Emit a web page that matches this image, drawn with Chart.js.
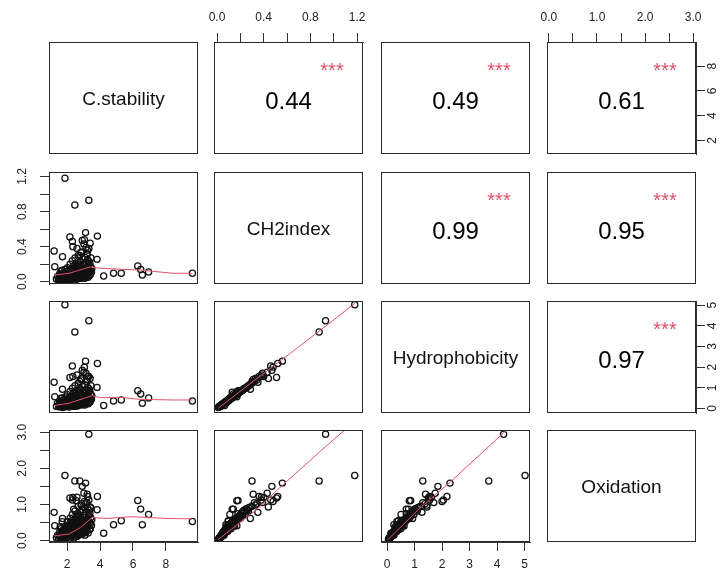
<!DOCTYPE html>
<html><head><meta charset="utf-8">
<script src="https://cdn.jsdelivr.net/npm/chart.js@4/dist/chart.umd.min.js"></script>
<style>
html,body{margin:0;padding:0;background:#fff;}
body{width:725px;height:578px;overflow:hidden;position:relative;}
.pw{position:absolute;}
.pw canvas{display:block;}
</style></head>
<body>
<script>
const varNames = ['C.stability', 'CH2index', 'Hydrophobicity', 'Oxidation'];

const cStability = [1.87,3.32,2.47,3.12,3.84,2.17,2.92,2.77,3.02,3.25,2.55,3.05,2.32,2.60,2.35,3.40,1.21,1.25,1.72,3.82,4.22,4.82,5.29,6.29,6.47,6.57,6.95,9.61,2.40,3.15,2.85,3.22,
1.35,1.42,1.48,1.55,1.60,1.63,1.68,1.72,1.75,1.78,1.82,1.85,1.88,1.90,1.93,1.96,2.00,2.02,2.05,2.08,2.10,2.12,2.15,2.18,2.20,2.22,2.25,2.27,2.30,2.32,2.35,2.37,2.40,2.42,2.45,2.48,2.50,2.52,2.55,2.57,2.60,2.62,2.65,2.67,2.70,2.72,2.75,2.78,2.80,2.82,2.85,2.87,2.90,2.92,2.95,2.97,3.00,3.02,3.05,3.07,3.10,3.12,3.15,3.17,3.20,3.22,3.25,3.27,3.30,3.32,3.35,3.38,3.40,3.43,3.45,3.48,3.50,
1.95,2.05,2.13,2.23,2.28,2.38,2.43,2.53,2.58,2.63,2.68,2.73,2.83,2.88,2.93,2.98,3.03,3.08,3.13,3.18,3.23,3.28,2.02,2.33,2.48,2.62,2.77,3.33,1.58,1.70,
1.52,1.57,1.65,1.70,1.77,1.80,1.84,1.87,1.91,1.98,2.03,2.07,2.11,2.16,2.19,2.24,2.29,2.34,2.39,2.44,2.47,2.51,2.56,2.59,2.64,2.69,2.74,2.79,2.84,2.89,2.94,2.99,3.04,3.09,3.14,3.19,3.24,3.29,3.36,3.42];

const ch2Index = [1.18,0.93,0.875,0.56,0.52,0.51,0.47,0.30,0.43,0.36,0.17,0.48,0.46,0.38,0.40,0.44,0.35,0.17,0.285,0.255,0.065,0.096,0.096,0.18,0.14,0.076,0.11,0.096,0.13,0.39,0.33,0.31,
0.03,0.06,0.02,0.09,0.04,0.12,0.07,0.01,0.05,0.10,0.03,0.08,0.14,0.05,0.02,0.11,0.06,0.16,0.04,0.09,0.13,0.02,0.07,0.20,0.05,0.11,0.03,0.15,0.08,0.24,0.06,0.12,0.18,0.04,0.10,0.27,0.07,0.14,0.21,0.09,0.05,0.16,0.12,0.30,0.08,0.19,0.13,0.06,0.23,0.10,0.17,0.34,0.07,0.15,0.26,0.11,0.20,0.09,0.14,0.28,0.18,0.06,0.22,0.12,0.32,0.16,0.25,0.10,0.19,0.38,0.13,0.21,0.08,0.17,0.27,0.11,0.15,
0.03,0.07,0.04,0.08,0.05,0.09,0.02,0.06,0.11,0.03,0.09,0.04,0.07,0.12,0.05,0.08,0.13,0.04,0.10,0.07,0.14,0.05,0.10,0.14,0.15,0.18,0.22,0.23,0.08,0.13,
0.04,0.02,0.06,0.03,0.08,0.05,0.02,0.06,0.09,0.04,0.07,0.03,0.10,0.05,0.08,0.06,0.11,0.04,0.07,0.12,0.05,0.09,0.03,0.08,0.06,0.10,0.13,0.05,0.09,0.04,0.11,0.07,0.05,0.12,0.09,0.06,0.10,0.14,0.07,0.12];

const hydrophobicity = [5.02,4.24,3.70,2.29,2.18,1.50,1.85,1.30,1.75,1.55,0.81,2.00,2.05,1.62,1.55,1.45,1.27,0.57,0.93,1.02,0.14,0.36,0.41,0.86,0.70,0.25,0.51,0.36,0.78,1.70,1.45,1.40,
0.10,0.25,0.08,0.35,0.15,0.50,0.27,0.05,0.20,0.42,0.12,0.30,0.55,0.19,0.09,0.45,0.24,0.66,0.14,0.38,0.52,0.07,0.28,0.82,0.20,0.44,0.13,0.60,0.33,0.98,0.25,0.50,0.74,0.16,0.41,1.10,0.29,0.57,0.86,0.37,0.21,0.65,0.49,1.22,0.32,0.78,0.53,0.26,0.94,0.40,0.70,1.38,0.28,0.62,1.05,0.45,0.82,0.36,0.58,1.15,0.74,0.25,0.90,0.48,1.30,0.66,1.02,0.41,0.78,1.55,0.53,0.86,0.33,0.70,1.10,0.45,0.62,
0.11,0.31,0.17,0.30,0.22,0.40,0.10,0.27,0.47,0.12,0.36,0.18,0.31,0.52,0.22,0.35,0.55,0.17,0.43,0.30,0.60,0.23,0.40,0.57,0.62,0.70,0.88,0.96,0.30,0.50,
0.16,0.09,0.24,0.12,0.34,0.20,0.08,0.25,0.37,0.17,0.29,0.12,0.42,0.21,0.33,0.24,0.46,0.16,0.30,0.50,0.21,0.37,0.13,0.33,0.25,0.41,0.54,0.20,0.38,0.17,0.45,0.29,0.21,0.50,0.37,0.25,0.42,0.58,0.29,0.49];

const oxidation = [1.80,2.94,1.65,1.59,1.22,1.18,1.50,1.65,1.31,1.22,1.10,1.08,1.12,1.20,1.19,0.93,0.78,0.41,0.61,0.85,0.20,0.44,0.55,1.11,0.87,0.44,0.72,0.53,0.87,1.05,0.98,1.28,
0.08,0.15,0.05,0.25,0.12,0.33,0.22,0.03,0.16,0.30,0.09,0.26,0.40,0.14,0.07,0.35,0.20,0.52,0.11,0.31,0.44,0.06,0.24,0.62,0.17,0.38,0.10,0.55,0.28,0.72,0.21,0.46,0.58,0.14,0.36,0.82,0.27,0.50,0.68,0.33,0.19,0.60,0.42,0.95,0.30,0.66,0.48,0.23,0.78,0.39,0.62,1.02,0.26,0.57,0.85,0.43,0.70,0.34,0.53,0.92,0.64,0.22,0.80,0.45,1.05,0.60,0.88,0.38,0.69,1.12,0.50,0.76,0.31,0.63,0.90,0.42,0.58,
0.10,0.27,0.15,0.32,0.19,0.34,0.08,0.25,0.45,0.12,0.37,0.16,0.28,0.47,0.20,0.33,0.51,0.15,0.40,0.29,0.56,0.21,0.41,0.51,0.40,0.74,0.70,0.84,0.38,0.52,
0.13,0.07,0.21,0.10,0.28,0.18,0.06,0.22,0.33,0.15,0.27,0.11,0.38,0.20,0.30,0.24,0.41,0.16,0.29,0.46,0.21,0.35,0.12,0.32,0.25,0.39,0.50,0.21,0.37,0.17,0.44,0.30,0.22,0.48,0.37,0.26,0.41,0.55,0.31,0.47];

// correlation text in the upper panels: (row,col) pairs 01,02,03,12,13,23
const corrText  = {'01':'0.44','02':'0.49','03':'0.61','12':'0.99','13':'0.95','23':'0.97'};
const corrStars = {'01':'***','02':'***','03':'***','12':'***','13':'***','23':'***'};

// smoother lines (red), keyed by xVar+yVar
const smoothCsCh2X = [1.21,2.11,3.42,4.02,6.43,8.44,9.61];
const smoothCsCh2Y = [0.076,0.096,0.17,0.153,0.133,0.096,0.096];
const smoothCsHyX  = [1.21,2.11,3.52,4.02,5.23,6.43,8.44,9.61];
const smoothCsHyY  = [0.14,0.25,0.62,0.52,0.54,0.44,0.41,0.41];
const smoothCsOxX  = [1.21,2.11,2.82,3.52,4.42,5.83,8.2,9.61];
const smoothCsOxY  = [0.13,0.18,0.36,0.64,0.61,0.66,0.61,0.60];
const smoothChHyX  = [0.01,0.30,0.60,0.93,1.18];
const smoothChHyY  = [0.01,1.27,2.55,3.98,5.08];
const smoothChOxX  = [0.01,0.33,0.55,0.93,1.18];
const smoothChOxY  = [0.03,0.83,1.50,2.60,3.30];
const smoothHyOxX  = [0.02,1.20,2.30,4.35,5.02];
const smoothHyOxY  = [0.02,0.90,1.62,3.06,3.52];

// axis limits and ticks
const csLim = [0.90, 9.95], chLim = [-0.026, 1.251], hyLim = [-0.22, 5.20], oxLim = [-0.04, 3.06];
const csTicks = [2,4,6,8],                 csTickLabels = ['2','4','6','8'];
const chTicks = [0,0.2,0.4,0.6,0.8,1.0,1.2], chTickLabels = ['0.0','','0.4','','0.8','','1.2'];
const hyTicks = [0,1,2,3,4,5],             hyTickLabels = ['0','1','2','3','4','5'];
const oxTicks = [0,0.5,1.0,1.5,2.0,2.5,3.0], oxTickLabels = ['0.0','','1.0','','2.0','','3.0'];

// ---------- layout ----------
const RED = '#DF536B';
const FONT = '"Liberation Sans", Arial, Helvetica, sans-serif';
const colX = [49, 214, 381, 547];
const rowY = [42, 172, 301, 430];
const boxW = 149, boxH = 112;
const M = 50, A = 40;

const vars = [
  {data: cStability,     lim: csLim, ticks: csTicks, labels: csTickLabels},
  {data: ch2Index,       lim: chLim, ticks: chTicks, labels: chTickLabels},
  {data: hydrophobicity, lim: hyLim, ticks: hyTicks, labels: hyTickLabels},
  {data: oxidation,      lim: oxLim, ticks: oxTicks, labels: oxTickLabels}
];
const smooths = {
  '01': [smoothCsCh2X, smoothCsCh2Y],
  '02': [smoothCsHyX,  smoothCsHyY],
  '03': [smoothCsOxX,  smoothCsOxY],
  '12': [smoothChHyX,  smoothChHyY],
  '13': [smoothChOxX,  smoothChOxY],
  '23': [smoothHyOxX,  smoothHyOxY]
};

const panelPlugin = {
  id: 'panel',
  afterDraw(chart, args, o) {
    const {ctx, chartArea: a} = chart;
    ctx.save();
    ctx.strokeStyle = '#2a2a2a';
    ctx.lineWidth = 1;
    ctx.strokeRect(a.left + 0.5, a.top + 0.5, a.right - a.left - 1, a.bottom - a.top - 1);
    const cx = (a.left + a.right) / 2, cy = (a.top + a.bottom) / 2;
    ctx.textAlign = 'center';
    ctx.textBaseline = 'alphabetic';
    if (o.label) {
      ctx.fillStyle = '#111';
      ctx.font = '19px ' + FONT;
      ctx.fillText(o.label, cx, cy + 7);
    }
    if (o.corr) {
      ctx.fillStyle = '#000';
      ctx.font = '24px ' + FONT;
      ctx.fillText(o.corr, cx, cy + 10.5);
    }
    if (o.stars) {
      ctx.fillStyle = RED;
      ctx.font = '20px ' + FONT;
      ctx.fillText(o.stars, a.right - 31, a.top + 35);
    }
    ctx.restore();
  }
};

function axisCfg(v, pos, show, horiz, pad) {
  return {
    type: 'linear', position: pos, display: show,
    min: v.lim[0], max: v.lim[1],
    afterBuildTicks: s => { s.ticks = v.ticks.map(t => ({value: t})); },
    afterFit: s => {
      if (!show) { s.width = 0; s.height = 0; return; }
      if (horiz) s.height = A; else s.width = A;
    },
    ticks: {
      autoSkip: false,
      minRotation: horiz ? 0 : 90, maxRotation: horiz ? 0 : 90,
      crossAlign: horiz ? 'near' : 'center',
      padding: pad, color: '#222',
      font: {family: FONT, size: 12},
      callback: (val, i) => v.labels[i]
    },
    grid: {display: true, drawOnChartArea: false, drawTicks: true, tickLength: 9, color: '#333', lineWidth: 1},
    border: {display: true, color: '#333', width: 1}
  };
}

function makePanel(r, c) {
  const W = boxW + 2 * M, H = boxH + 2 * M;
  const wrap = document.createElement('div');
  wrap.className = 'pw';
  wrap.style.left = (colX[c] - M) + 'px';
  wrap.style.top = (rowY[r] - M) + 'px';
  wrap.style.width = W + 'px';
  wrap.style.height = H + 'px';
  const cv = document.createElement('canvas');
  cv.width = W; cv.height = H;
  cv.style.width = W + 'px'; cv.style.height = H + 'px';
  wrap.appendChild(cv);
  document.body.appendChild(wrap);

  const showTop = r === 0 && c % 2 === 1;
  const showBottom = r === 3 && c % 2 === 0;
  const showLeft = c === 0 && r % 2 === 1;
  const showRight = c === 3 && r % 2 === 0;
  const vx = vars[c], vy = vars[r];

  const datasets = [];
  const opts = {};
  if (r > c) {
    const key = '' + c + r;
    const sm = smooths[key];
    datasets.push({
      data: sm[0].map((x, i) => ({x, y: sm[1][i]})),
      showLine: true, borderColor: RED, borderWidth: 1, pointRadius: 0, fill: false, tension: 0
    });
    datasets.push({
      data: vx.data.map((x, i) => ({x, y: vy.data[i]})),
      showLine: false, pointRadius: 3.1, pointStyle: 'circle',
      pointBorderColor: '#111', pointBackgroundColor: 'rgba(0,0,0,0)', pointBorderWidth: 1.25
    });
  } else if (r === c) {
    opts.label = varNames[r];
  } else {
    const key = '' + r + c;
    opts.corr = corrText[key];
    opts.stars = corrStars[key];
  }

  new Chart(cv, {
    type: 'scatter',
    data: {datasets},
    options: {
      responsive: false, animation: false, devicePixelRatio: 1,
      events: [],
      layout: {padding: {
        left: showLeft ? M - A : M, right: showRight ? M - A : M,
        top: showTop ? M - A : M, bottom: showBottom ? M - A : M
      }},
      plugins: {legend: {display: false}, tooltip: {enabled: false}, panel: opts},
      scales: {
        x: axisCfg(vx, showTop ? 'top' : 'bottom', showTop || showBottom, true, showTop ? 8 : 6),
        y: axisCfg(vy, showRight ? 'right' : 'left', showLeft || showRight, false, showRight ? 4 : 9)
      }
    },
    plugins: [panelPlugin]
  });
}

for (let r = 0; r < 4; r++) for (let c = 0; c < 4; c++) makePanel(r, c);
</script>
</body></html>
